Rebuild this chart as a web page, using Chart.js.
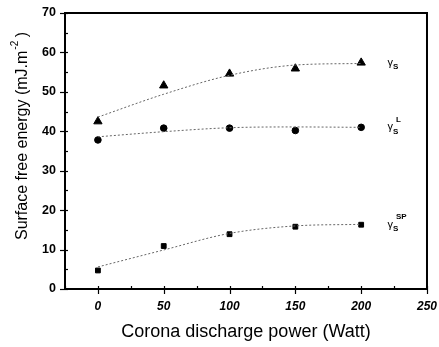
<!DOCTYPE html>
<html><head><meta charset="utf-8">
<script src="https://cdn.jsdelivr.net/npm/chart.js@4/dist/chart.umd.min.js"></script>
<style>html,body{margin:0;padding:0;background:#fff}#wrap{width:439px;height:347px}</style>
</head><body><div id="wrap"><canvas id="c" width="439" height="347"></canvas></div>
<script>
const powers = [0, 50, 100, 150, 200];
const gammaS = [42.5, 51.6, 54.6, 55.9, 57.4];
const gammaL = [37.8, 40.8, 40.8, 40.2, 41.0];
const gammaSP = [4.7, 10.9, 13.9, 15.8, 16.3];
const fitX = [0, 50, 100, 150, 200];
const fitS = [43.6, 49.4, 54.2, 56.8, 57.2];
const fitL = [38.6, 39.9, 40.9, 41.1, 41.0];
const fitSP = [5.6, 9.9, 14.1, 16.0, 16.4];
const xTicks = [0, 50, 100, 150, 200, 250];
const yTicks = [0, 10, 20, 30, 40, 50, 60, 70];
const seriesLabels = [['γ','S',''], ['γ','S','L'], ['γ','S','SP']];

const pts = (xs, ys) => xs.map((x, i) => ({x: x, y: ys[i]}));
const FF = '"Liberation Sans", Arial, sans-serif';

const decor = {
  id: 'decor',
  afterDraw(chart) {
    const ctx = chart.ctx, a = chart.chartArea;
    const xs = chart.scales.x, ys = chart.scales.y;
    ctx.save();
    ctx.strokeStyle = '#000';
    ctx.lineWidth = 2;
    ctx.strokeRect(a.left, a.top, a.right - a.left, a.bottom - a.top);
    ctx.lineWidth = 1.2;
    for (let v = 0; v <= 70; v += 5) {
      const p = Math.round(ys.getPixelForValue(v)) + 0.5;
      const major = v % 10 === 0;
      ctx.beginPath();
      ctx.moveTo(a.left - (major ? 5 : 0), p);
      ctx.lineTo(a.left + 3, p);
      ctx.stroke();
    }
    for (let v = -25; v <= 250; v += 25) {
      const p = Math.round(xs.getPixelForValue(v)) + 0.5;
      const major = v % 50 === 0;
      ctx.beginPath();
      ctx.moveTo(p, a.bottom + (major ? 5 : 0));
      ctx.lineTo(p, a.bottom - 3);
      ctx.stroke();
    }
    ctx.fillStyle = '#000';
    ctx.translate(23, 136);
    ctx.rotate(-Math.PI / 2);
    const main = 'Surface free energy (mJ.m';
    ctx.font = '16px ' + FF;
    const w1 = ctx.measureText(main).width;
    ctx.font = '10px ' + FF;
    const w2 = ctx.measureText('-2').width;
    ctx.font = '16px ' + FF;
    const w3 = ctx.measureText(' )').width;
    const total = w1 + w2 + w3;
    ctx.textBaseline = 'middle';
    ctx.textAlign = 'left';
    const x0 = -total / 2;
    ctx.fillText(main, x0, 0);
    ctx.font = '10px ' + FF;
    ctx.fillText('-2', x0 + w1 + 1, -8);
    ctx.font = '16px ' + FF;
    ctx.fillText(' )', x0 + w1 + w2, 0);
    ctx.restore();

    ctx.save();
    ctx.fillStyle = '#000';
    const lastVals = [gammaS[4], gammaL[4], gammaSP[4]];
    seriesLabels.forEach((lab, i) => {
      const px = xs.getPixelForValue(220);
      const py = ys.getPixelForValue(lastVals[i]);
      ctx.font = '11px ' + FF;
      ctx.textBaseline = 'middle';
      ctx.textAlign = 'left';
      ctx.fillText(lab[0], px, py);
      const gw = ctx.measureText(lab[0]).width;
      ctx.font = 'bold 8px ' + FF;
      ctx.fillText(lab[1], px + gw, py + 4);
      if (lab[2]) ctx.fillText(lab[2], px + gw + 3, py - 8);
    });
    ctx.restore();
  }
};

const fitStyle = {borderColor: '#666', borderWidth: 1, borderDash: [2, 2], pointRadius: 0, showLine: true, fill: false, cubicInterpolationMode: 'monotone'};
const markStyle = {borderColor: '#000', backgroundColor: '#000', showLine: false, pointBorderWidth: 1};

new Chart(document.getElementById('c'), {
  type: 'scatter',
  data: {
    datasets: [
      Object.assign({label: 'fit S', data: pts(fitX, fitS)}, fitStyle),
      Object.assign({label: 'fit L', data: pts(fitX, fitL)}, fitStyle),
      Object.assign({label: 'fit SP', data: pts(fitX, fitSP)}, fitStyle),
      Object.assign({label: 'γS', data: pts(powers, gammaS), pointStyle: 'triangle', pointRadius: 4.8}, markStyle),
      Object.assign({label: 'γS L', data: pts(powers, gammaL), pointStyle: 'circle', pointRadius: 3.3}, markStyle),
      Object.assign({label: 'γS SP', data: pts(powers, gammaSP), pointStyle: 'rect', pointRadius: 3.4}, markStyle)
    ]
  },
  options: {
    responsive: false,
    animation: false,
    layout: {padding: {top: 13, right: 12, left: 0, bottom: 0}},
    plugins: {legend: {display: false}, tooltip: {enabled: false}},
    scales: {
      x: {
        type: 'linear', min: -25, max: 250,
        afterBuildTicks: s => { s.ticks = xTicks.map(v => ({value: v})); },
        afterFit: s => { s.height = 58; },
        grid: {display: false},
        border: {display: false},
        ticks: {color: '#000', padding: 2, maxRotation: 0, font: {family: FF, size: 12, weight: 'bold', style: 'italic'}},
        title: {display: true, text: 'Corona discharge power (Watt)', color: '#000', padding: {top: 6}, font: {family: FF, size: 18}}
      },
      y: {
        type: 'linear', min: 0, max: 70,
        afterBuildTicks: s => { s.ticks = yTicks.map(v => ({value: v})); },
        afterFit: s => { s.width = 65; },
        grid: {display: false},
        border: {display: false},
        ticks: {color: '#000', padding: 1, font: {family: FF, size: 12.5, weight: 'bold'}}
      }
    }
  },
  plugins: [decor]
});
</script>
</body></html>
